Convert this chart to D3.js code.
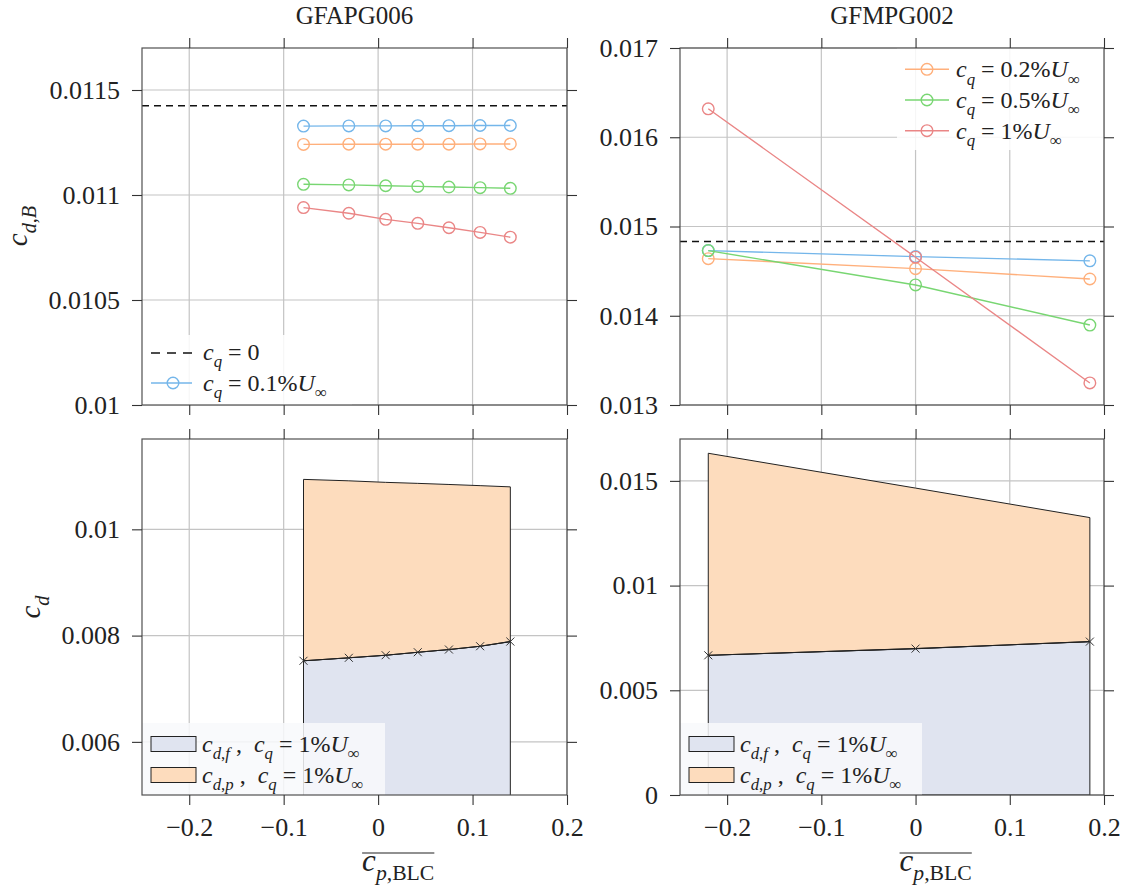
<!DOCTYPE html>
<html>
<head>
<meta charset="utf-8">
<script src="https://cdn.jsdelivr.net/npm/d3@7"></script>
<style>
  body { margin: 0; background: #fff; }
  text { font-family: "Liberation Serif", "Times New Roman", serif; fill: #222; white-space: pre; }
</style>
</head>
<body>
<svg id="fig" width="1133" height="887"></svg>
<script>
// ---------------- data ----------------
const titles = ["GFAPG006", "GFMPG002"];
const xTicks = [-0.2, -0.1, 0, 0.1, 0.2];

// GFAPG006: mean BLC pressure coefficient and body drag per suction rate
const cpA = [-0.079, -0.031, 0.008, 0.042, 0.075, 0.108, 0.140];
const cdBA_cq0 = 0.011425;
const cdBA_cq01 = [0.011328, 0.011329, 0.011329, 0.011330, 0.011330, 0.011331, 0.011331];
const cdBA_cq02 = [0.011241, 0.011242, 0.011242, 0.011242, 0.011242, 0.011243, 0.011243];
const cdBA_cq05 = [0.011051, 0.011048, 0.011044, 0.011041, 0.011038, 0.011035, 0.011032];
const cdBA_cq1  = [0.010940, 0.010913, 0.010884, 0.010865, 0.010844, 0.010822, 0.010799];
const cdfA_cq1  = [0.007526, 0.007582, 0.007631, 0.007687, 0.007738, 0.007800, 0.007888];

// GFMPG002
const cpB = [-0.22, 0.0, 0.185];
const cdBB_cq0 = 0.014831;
const cdBB_cq01 = [0.014730, 0.014663, 0.014615];
const cdBB_cq02 = [0.014640, 0.014528, 0.014412];
const cdBB_cq05 = [0.014730, 0.014345, 0.013896];
const cdBB_cq1  = [0.016319, 0.014656, 0.013247];
const cdfB_cq1  = [0.006671, 0.006991, 0.007325];

// axis ticks
const yTicksTopA = [0.01, 0.0105, 0.011, 0.0115];
const yTicksBotA = [0.006, 0.008, 0.01];
const yTicksTopB = [0.013, 0.014, 0.015, 0.016, 0.017];
const yTicksBotB = [0, 0.005, 0.01, 0.015];

// series colours
const colBlue = "#74b6ea", colOrange = "#ffb07c", colGreen = "#78d672", colRed = "#ea8686";
const fillF = "#e0e4f0", fillP = "#fddcbd";

// ---------------- drawing ----------------
const svg = d3.select("#fig");
const FS = 26;      // tick label size
const LFS = 24;     // legend size

const fmt = v => (v === 0 ? "0" : String(+v.toFixed(5))).replace("-", "\u2212");

// math-style text: parts = [{t, i(italic), s(subscript)}]
function mathText(parent, parts, size, attrs) {
  const t = parent.append("text");
  Object.entries(attrs || {}).forEach(([k, v]) => t.attr(k, v));
  t.attr("font-size", size);
  let cur = 0;
  parts.forEach(p => {
    const off = p.s ? size * 0.3 : 0;
    const ts = t.append("tspan").text(p.t).attr("dy", off - cur);
    cur = off;
    if (p.i) ts.attr("font-style", "italic");
    if (p.s) ts.attr("font-size", size * 0.7);
  });
  return t;
}
const cq = (val) => [
  { t: "c", i: true }, { t: "q", i: true, s: true }, { t: " = " + val }
];
const cqU = (val) => [...cq(val), { t: "U", i: true }, { t: "\u221e", s: true }];

const L = { x0: 142, x1: 567 }, R = { x0: 680, x1: 1104 };
const T = { y0: 48, y1: 405 }, B = { y0: 439, y1: 795 };

function panel(h, v, yDomain, yTicks, showXLabels) {
  const g = svg.append("g");
  const x = d3.scaleLinear().domain([-0.25, 0.2]).range([h.x0, h.x1]);
  const y = d3.scaleLinear().domain(yDomain).range([v.y1, v.y0]);
  const clipId = "c" + Math.round(h.x0) + "_" + Math.round(v.y0);
  svg.append("clipPath").attr("id", clipId).append("rect")
    .attr("x", h.x0).attr("y", v.y0).attr("width", h.x1 - h.x0).attr("height", v.y1 - v.y0);
  // grid
  const grid = g.append("g").attr("stroke", "#c4c4c4").attr("stroke-width", 1.2);
  xTicks.forEach(t => grid.append("line").attr("x1", x(t)).attr("x2", x(t)).attr("y1", v.y0).attr("y2", v.y1));
  yTicks.forEach(t => grid.append("line").attr("y1", y(t)).attr("y2", y(t)).attr("x1", h.x0).attr("x2", h.x1));
  const plot = g.append("g").attr("clip-path", `url(#${clipId})`);
  return { g, plot, x, y, h, v, yTicks, showXLabels };
}

function finishPanel(p) {
  const { g, x, y, h, v, yTicks, showXLabels } = p;
  g.append("rect").attr("x", h.x0).attr("y", v.y0).attr("width", h.x1 - h.x0).attr("height", v.y1 - v.y0)
    .attr("fill", "none").attr("stroke", "#505050").attr("stroke-width", 1.2);
  const styleAxis = (sel) => {
    sel.select(".domain").remove();
    sel.selectAll(".tick line").attr("stroke", "#333").attr("stroke-width", 1.1);
    sel.selectAll(".tick text").attr("font-size", FS).attr("fill", "#222");
  };
  g.append("g").attr("transform", `translate(0,${v.y1})`)
    .call(d3.axisBottom(x).tickValues(xTicks).tickSize(10).tickPadding(13)
      .tickFormat(showXLabels ? fmt : () => ""))
    .call(styleAxis);
  g.append("g").attr("transform", `translate(0,${v.y0})`)
    .call(d3.axisTop(x).tickValues(xTicks).tickSize(10).tickFormat(() => ""))
    .call(styleAxis);
  g.append("g").attr("transform", `translate(${h.x0},0)`)
    .call(d3.axisLeft(y).tickValues(yTicks).tickSize(10).tickPadding(12).tickFormat(fmt))
    .call(styleAxis);
  g.append("g").attr("transform", `translate(${h.x1},0)`)
    .call(d3.axisRight(y).tickValues(yTicks).tickSize(10).tickFormat(() => ""))
    .call(styleAxis);
}

function seriesLine(p, xs, ys, color) {
  const line = d3.line().x((d, i) => p.x(xs[i])).y(d => p.y(d));
  p.plot.append("path").datum(ys).attr("d", line).attr("fill", "none")
    .attr("stroke", color).attr("stroke-width", 1.4);
  p.plot.selectAll(null).data(ys).enter().append("circle")
    .attr("cx", (d, i) => p.x(xs[i])).attr("cy", d => p.y(d)).attr("r", 5.8)
    .attr("fill", "none").attr("stroke", color).attr("stroke-width", 1.4);
}
function dashed(p, val) {
  p.plot.append("line").attr("x1", p.h.x0).attr("x2", p.h.x1)
    .attr("y1", p.y(val)).attr("y2", p.y(val))
    .attr("stroke", "#111").attr("stroke-width", 1.5).attr("stroke-dasharray", "7,5");
}
function stacked(p, xs, cdf, cdTotal) {
  const bottom = Math.min(0, p.y.domain()[0]);
  const polyF = [[xs[0], bottom], ...cdf.map((d, i) => [xs[i], d]), [xs[xs.length - 1], bottom]];
  const polyP = [...cdf.map((d, i) => [xs[i], d]), ...cdTotal.map((d, i) => [xs[i], d]).reverse()];
  const poly = d3.line().x(d => p.x(d[0])).y(d => p.y(d[1]));
  p.plot.append("path").attr("d", poly(polyF) + "Z").attr("fill", fillF)
    .attr("stroke", "#222").attr("stroke-width", 1);
  p.plot.append("path").attr("d", poly(polyP) + "Z").attr("fill", fillP)
    .attr("stroke", "#222").attr("stroke-width", 1);
  const line = d3.line().x((d, i) => p.x(xs[i])).y(d => p.y(d));
  p.plot.append("path").datum(cdf).attr("d", line).attr("fill", "none")
    .attr("stroke", "#222").attr("stroke-width", 1.1);
  cdf.forEach((d, i) => {
    const cx = p.x(xs[i]), cy = p.y(d), s = 4;
    p.plot.append("path").attr("d", `M${cx - s},${cy - s}L${cx + s},${cy + s}M${cx - s},${cy + s}L${cx + s},${cy - s}`)
      .attr("stroke", "#333").attr("stroke-width", 1);
  });
}

// ---- top-left: GFAPG006 body drag ----
const pTA = panel(L, T, [0.01, 0.0117], yTicksTopA, false);
dashed(pTA, cdBA_cq0);
seriesLine(pTA, cpA, cdBA_cq01, colBlue);
seriesLine(pTA, cpA, cdBA_cq02, colOrange);
seriesLine(pTA, cpA, cdBA_cq05, colGreen);
seriesLine(pTA, cpA, cdBA_cq1, colRed);
{
  const lg = pTA.g.append("g");
  lg.append("rect").attr("x", 142).attr("y", 335).attr("width", 210).attr("height", 70)
    .attr("fill", "#fff").attr("fill-opacity", 0.85);
  lg.append("line").attr("x1", 151).attr("x2", 192).attr("y1", 353).attr("y2", 353)
    .attr("stroke", "#111").attr("stroke-width", 1.5).attr("stroke-dasharray", "9,7");
  mathText(lg, cq("0"), LFS, { x: 203, y: 360 });
  lg.append("line").attr("x1", 151).attr("x2", 192).attr("y1", 383).attr("y2", 383)
    .attr("stroke", colBlue).attr("stroke-width", 1.4);
  lg.append("circle").attr("cx", 173).attr("cy", 383).attr("r", 5.8).attr("fill", "none")
    .attr("stroke", colBlue).attr("stroke-width", 1.4);
  mathText(lg, cqU("0.1%"), LFS, { x: 203, y: 391 });
}
finishPanel(pTA);

// ---- top-right: GFMPG002 body drag ----
const pTB = panel(R, T, [0.013, 0.017], yTicksTopB, false);
dashed(pTB, cdBB_cq0);
seriesLine(pTB, cpB, cdBB_cq01, colBlue);
seriesLine(pTB, cpB, cdBB_cq02, colOrange);
seriesLine(pTB, cpB, cdBB_cq05, colGreen);
seriesLine(pTB, cpB, cdBB_cq1, colRed);
{
  const lg = pTB.g.append("g");
  lg.append("rect").attr("x", 897).attr("y", 48).attr("width", 207).attr("height", 102)
    .attr("fill", "#fff").attr("fill-opacity", 0.85);
  const rows = [["0.2%", colOrange, 69.3], ["0.5%", colGreen, 100], ["1%", colRed, 130.7]];
  rows.forEach(([lab, c, yy]) => {
    lg.append("line").attr("x1", 905).attr("x2", 949).attr("y1", yy).attr("y2", yy)
      .attr("stroke", c).attr("stroke-width", 1.4);
    lg.append("circle").attr("cx", 927).attr("cy", yy).attr("r", 5.8).attr("fill", "none")
      .attr("stroke", c).attr("stroke-width", 1.4);
    mathText(lg, cqU(lab), LFS, { x: 956, y: yy + 8 });
  });
}
finishPanel(pTB);

// ---- bottom panels: drag decomposition ----
function decompLegend(p, x0, x1) {
  const lg = p.g.append("g");
  lg.append("rect").attr("x", x0).attr("y", 723).attr("width", x1 - x0).attr("height", 72)
    .attr("fill", "#f8f9fc").attr("fill-opacity", 0.85);
  const rows = [["f", fillF, 744], ["p", fillP, 775]];
  rows.forEach(([sub, c, yy]) => {
    lg.append("rect").attr("x", x0 + 9).attr("y", yy - 7.5).attr("width", 45).attr("height", 15)
      .attr("fill", c).attr("stroke", "#222").attr("stroke-width", 1);
    mathText(lg, [
      { t: "c", i: true }, { t: "d", i: true, s: true }, { t: ",", s: true }, { t: sub, i: true, s: true },
      { t: " ,  " }, ...cqU("1%")
    ], LFS, { x: x0 + 60, y: yy + 8 });
  });
}

const pBA = panel(L, B, [0.005, 0.0117], yTicksBotA, true);
stacked(pBA, cpA, cdfA_cq1, cdBA_cq1);
decompLegend(pBA, 142, 385);
finishPanel(pBA);

const pBB = panel(R, B, [0, 0.017], yTicksBotB, true);
stacked(pBB, cpB, cdfB_cq1, cdBB_cq1);
decompLegend(pBB, 680, 922);
finishPanel(pBB);

// ---- titles ----
svg.append("text").attr("x", (L.x0 + L.x1) / 2).attr("y", 24).attr("text-anchor", "middle")
  .attr("font-size", 25).text(titles[0]);
svg.append("text").attr("x", (R.x0 + R.x1) / 2).attr("y", 24).attr("text-anchor", "middle")
  .attr("font-size", 25).text(titles[1]);

// ---- axis labels ----
function xLabel(p) {
  const t = mathText(svg, [
    { t: "c", i: true }, { t: "p", i: true, s: true }, { t: ",BLC", s: true }
  ], 31, { x: p.x(0) - 16, y: 871 });
  const bb = t.node().getBBox();
  svg.append("line").attr("x1", bb.x).attr("x2", bb.x + bb.width).attr("y1", 853).attr("y2", 853)
    .attr("stroke", "#222").attr("stroke-width", 1.2);
}
xLabel(pBA);
xLabel(pBB);

function yLabel(parts, cx, cy) {
  const g = svg.append("g").attr("transform", `translate(${cx},${cy}) rotate(-90)`);
  mathText(g, parts, 29, { x: 0, y: 0, "text-anchor": "middle" });
}
yLabel([{ t: "c", i: true }, { t: "d", i: true, s: true }, { t: ",", s: true }, { t: "B", i: true, s: true }], 27, 226);
yLabel([{ t: "c", i: true }, { t: "d", i: true, s: true }], 40, 607);
</script>
</body>
</html>
